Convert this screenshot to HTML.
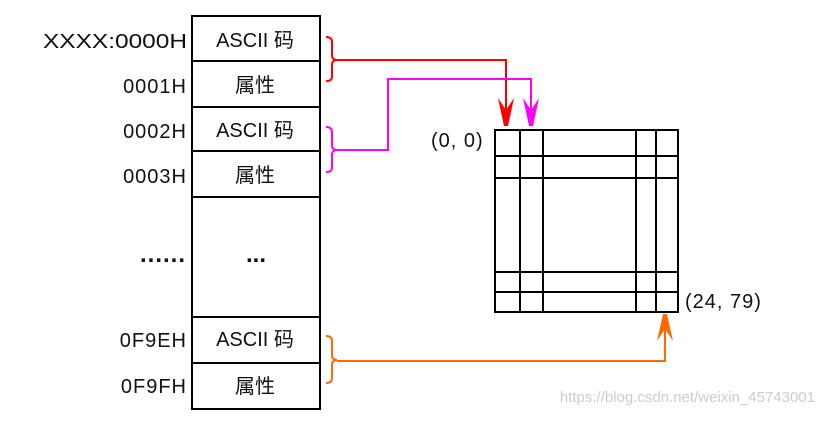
<!DOCTYPE html>
<html><head><meta charset="utf-8"><style>
body{margin:0;background:#fff;}
svg text{font-family:"Liberation Sans","Noto Sans CJK SC",sans-serif;}
</style></head><body>
<svg width="825" height="417" viewBox="0 0 825 417" xmlns="http://www.w3.org/2000/svg">
<rect width="825" height="417" fill="#fff"/>
<g stroke="#000" stroke-width="2" fill="none">
<rect x="192" y="16" width="128" height="393"/>
<line x1="192" y1="61" x2="320" y2="61"/>
<line x1="192" y1="107" x2="320" y2="107"/>
<line x1="192" y1="151" x2="320" y2="151"/>
<line x1="192" y1="197" x2="320" y2="197"/>
<line x1="192" y1="317" x2="320" y2="317"/>
<line x1="192" y1="363" x2="320" y2="363"/>
<rect x="495" y="130" width="183" height="182"/>
<line x1="520" y1="130" x2="520" y2="312"/>
<line x1="543" y1="130" x2="543" y2="312"/>
<line x1="636" y1="130" x2="636" y2="312"/>
<line x1="656" y1="130" x2="656" y2="312"/>
<line x1="495" y1="156" x2="678" y2="156"/>
<line x1="495" y1="178" x2="678" y2="178"/>
<line x1="495" y1="272" x2="678" y2="272"/>
<line x1="495" y1="292" x2="678" y2="292"/>
</g>
<g font-size="20" fill="#111" text-anchor="end">
<text x="187" y="48" textLength="144" lengthAdjust="spacingAndGlyphs">XXXX:0000H</text>
<text x="187" y="93" letter-spacing="1">0001H</text>
<text x="187" y="138" letter-spacing="1">0002H</text>
<text x="187" y="183" letter-spacing="1">0003H</text>
<text x="186" y="262" font-size="24" font-weight="bold" letter-spacing="1">......</text>
<text x="187" y="347" letter-spacing="1">0F9EH</text>
<text x="187" y="393" letter-spacing="1">0F9FH</text>
</g>
<g font-size="20" fill="#111" text-anchor="middle">
<text x="255" y="47">ASCII 码</text>
<text x="255" y="92">属性</text>
<text x="255" y="137">ASCII 码</text>
<text x="255" y="182">属性</text>
<text x="256" y="262" font-size="24" font-weight="bold">...</text>
<text x="255" y="346">ASCII 码</text>
<text x="255" y="393">属性</text>
</g>
<text x="431" y="147" font-size="20" fill="#111" letter-spacing="1">(0, 0)</text>
<text x="685" y="308" font-size="20" fill="#111" letter-spacing="1">(24, 79)</text>
<!-- red -->
<g fill="none" stroke="#f00" stroke-width="2">
<path d="M326,37 Q332,37 332,42 L332,55 Q332,60 337,60 Q332,60 332,65 L332,77 Q332,81 326,81"/>
<path d="M337,60 H506 V115"/>
</g>
<path d="M498,98 L506,110 L514,98 L508,126 L504,126 Z" fill="#f00"/>
<!-- magenta -->
<g fill="none" stroke="#f0f" stroke-width="2">
<path d="M326,127 Q332,127 332,132 L332,145 Q332,150 337,150 Q332,150 332,155 L332,168 Q332,172 326,172"/>
<path d="M337,150 H388 V79 H531 V115"/>
</g>
<path d="M523,98 L531,110 L539,98 L533,126 L529,126 Z" fill="#f0f"/>
<!-- orange -->
<g fill="none" stroke="#ff6a00" stroke-width="2">
<path d="M326,336 Q332,336 332,341 L332,355 Q332,360 337,360 Q332,360 332,365 L332,378 Q332,383 326,383"/>
<path d="M337,361 H665 V325"/>
</g>
<path d="M657,341 L665,329 L673,341 L667,314 L663,314 Z" fill="#ff6a00"/>
<text x="815" y="402" font-size="15" fill="#ccc" text-anchor="end">https://blog.csdn.net/weixin_45743001</text>
</svg>
</body></html>
